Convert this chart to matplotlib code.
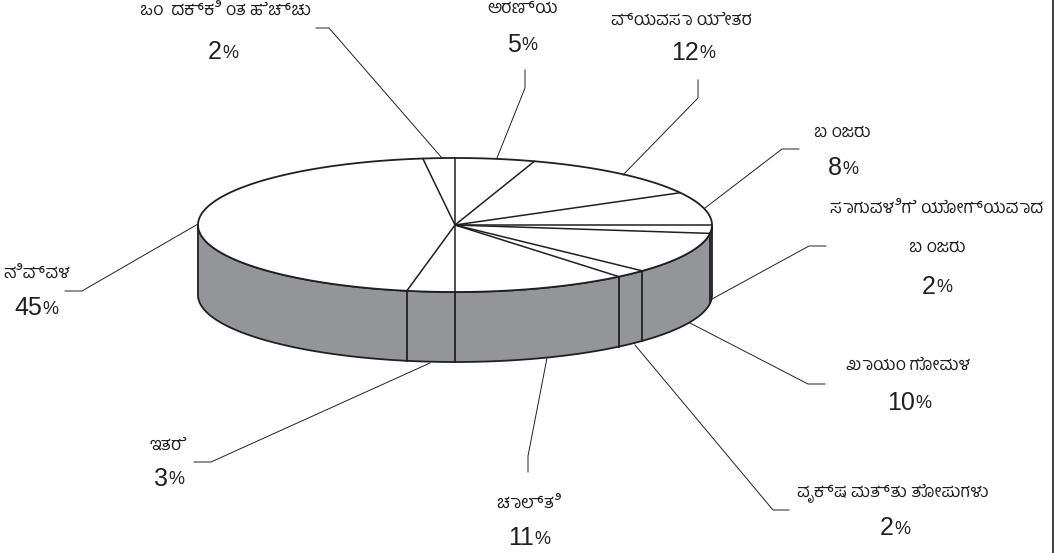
import numpy as np
import matplotlib.pyplot as plt
from matplotlib.patches import Polygon

# clockwise from the top of the pie
shares = [5, 12, 8, 2, 10, 2, 11, 3, 45, 2]
names = ['ಅರಣ್ಯ', 'ವ್ಯವಸಾ ಯೇತರ', 'ಬ ಂಜರು', 'ಸಾಗುವಳಿಗೆ ಯೋಗ್ಯವಾದ\nಬ ಂಜರು', 'ಖಾಯಂ ಗೋಮಳ',
         'ವೃಕ್ಷ ಮತ್ತು ತೋಪುಗಳು', 'ಚಾಲ್ತಿ', 'ಇತರೆ', 'ನಿವ್ವಳ', 'ಒಂ  ದಕ್ಕಿ ಂತ ಹೆಚ್ಚು']

cx, cy, rx, ry, depth = 455, 225, 257, 67, 70
edge = '#231f20'
wall = '#939598'
kannada = ['Hind Mysuru', 'Noto Sans Kannada', 'DejaVu Sans']

# name y, percent y, name x, percent x
label_pos = [(8, 45, 523, 522), (20, 53, 681, 693), (132, 168, 842, 843), (208, 287, 937, 937),
             (365, 403, 908, 909), (493, 528, 893, 895), (503, 538, 529, 529), (445, 479, 168, 169),
             (273, 308, 37, 36), (10, 52, 225, 223)]
leaders = [[(525, 70), (525, 88), (497, 158)],
           [(698, 80), (698, 98), (623, 175)],
           [(799, 149), (782, 149), (705, 208)],
           [(826, 246), (809, 246), (712, 299)],
           [(825, 384), (808, 384), (690, 323)],
           [(789, 510), (773, 510), (635, 345)],
           [(528, 472), (528, 456), (547, 358)],
           [(194, 462), (211, 462), (430, 363)],
           [(65, 291), (82, 291), (198, 224)],
           [(316, 28), (329, 28), (442, 158)]]


def rim(frac):
    a = 2 * np.pi * np.asarray(frac)
    return cx + rx * np.sin(a), cy - ry * np.cos(a)


fig = plt.figure(figsize=(10.55, 5.53), dpi=100, facecolor='w')
ax = fig.add_axes([0, 0, 1, 1])
ax.set_xlim(0, 1055)
ax.set_ylim(553, 0)
ax.axis('off')

# side wall
t = np.linspace(0.25, 0.75, 200)
x, y = rim(t)
ax.add_patch(Polygon(np.r_[np.c_[x, y], np.c_[x[::-1], y[::-1] + depth]], fc=wall, ec=edge, lw=1.3, zorder=1))

# top
t = np.linspace(0, 1, 400)
x, y = rim(t)
ax.add_patch(Polygon(np.c_[x, y], fc='w', ec=edge, lw=1.3, zorder=2))

cum = np.cumsum(shares) / sum(shares)
for f in np.r_[0, cum[:-1]]:
    ex, ey = rim(f)
    ax.plot([cx, ex], [cy, ey], color=edge, lw=1.1, zorder=3)
    # divider on the visible wall
    if 0.25 < f < 0.75:
        ax.plot([ex, ex], [ey, ey + depth], color=edge, lw=1.3, zorder=3)

for pts in leaders:
    ax.plot(*zip(*pts), color=edge, lw=0.7, zorder=4)

# page edge on the right
ax.plot([1053, 1053], [0, 553], color=edge, lw=1.2)

fig.canvas.draw()
rend = fig.canvas.get_renderer()
for s, name, (yn, yp, xn, xp) in zip(shares, names, label_pos):
    lines = name.split('\n')
    for i, line in enumerate(lines):
        ax.text(xn, yn + i * 39, line, ha='center', va='center', fontsize=12.7, color=edge, family=kannada)
    # number and smaller percent sign, centred as a pair
    a = ax.text(xp, yp, str(s), ha='left', va='center', fontsize=18, color=edge, family='Liberation Sans')
    b = ax.text(xp, yp + 1, '%', ha='left', va='center', fontsize=13, color=edge, family='Liberation Sans')
    wa = a.get_window_extent(rend).width
    wb = b.get_window_extent(rend).width
    a.set_x(xp - (wa + wb) / 2)
    b.set_x(xp - (wa + wb) / 2 + wa)

fig.savefig('out.png', dpi=100)
